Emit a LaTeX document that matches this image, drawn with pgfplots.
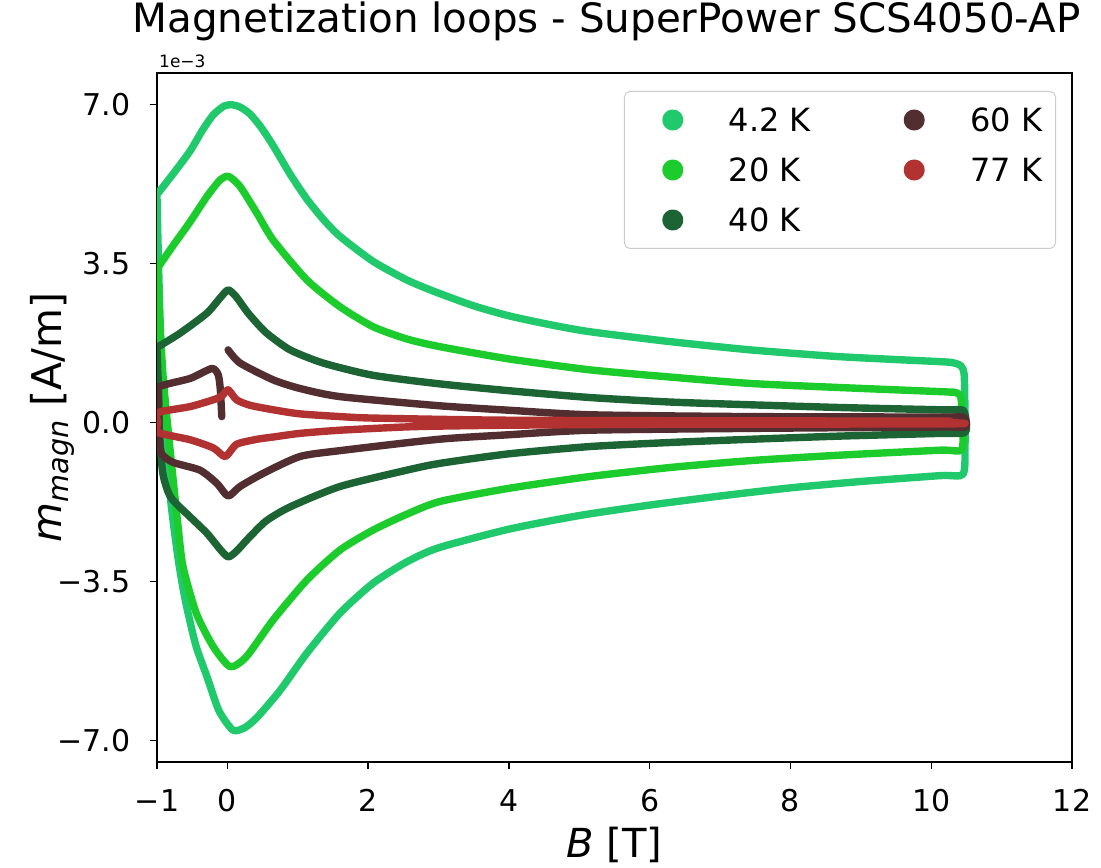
\documentclass[border=0pt]{standalone}
\usepackage{fontspec}
\setmainfont{DejaVu Sans}
\usepackage{pgfplots}
\pgfplotsset{compat=1.18}
\definecolor{c42}{RGB}{32,202,108}
\definecolor{c20}{RGB}{28,204,44}
\definecolor{c40}{RGB}{28,100,52}
\definecolor{c60}{RGB}{82,46,48}
\definecolor{c77}{RGB}{178,50,50}
\begin{document}
\begin{tikzpicture}
\path[use as bounding box] (-78.5pt,-52.5pt) rectangle (472pt,381pt);
\begin{axis}[
  name=ax, at={(0pt,0pt)}, anchor=south west,
  scale only axis, width=457.5pt, height=344.5pt,
  xmin=-1, xmax=12, ymin=-7.48, ymax=7.70,
  xtick={-1,0,2,4,6,8,10,12}, xticklabels={−1,0,2,4,6,8,10,12},
  ytick={-7,-3.5,0,3.5,7}, yticklabels={−7.0,−3.5,0.0,3.5,7.0},
  tick align=outside, xtick pos=bottom, ytick pos=left,
  major tick length=3.5pt,
  every tick/.style={black, line width=0.7pt},
  axis line style={line width=0.7pt},
  tick label style={font=\fontsize{15}{18}\selectfont},
  xticklabel style={anchor=base, inner sep=0pt, yshift=-21pt},
  yticklabel style={anchor=east, inner sep=0pt, xshift=-9.5pt},
  title={Magnetization loops - SuperPower SCS4050-AP},
  title style={at={(axis description cs:0.5,1.04064)}, anchor=base, inner sep=0pt, xshift=-4pt, font=\fontsize{20.2}{24}\selectfont},
  xlabel={\itshape B\upshape\ [T]},
  xlabel style={at={(axis description cs:0.5,-0.13788)}, anchor=base, inner sep=0pt, font=\fontsize{20}{24}\selectfont},
  ylabel={\itshape m\textsubscript{\itshape magn}\upshape\ [A/m]},
  ylabel style={at={(axis description cs:-0.10383,0.5)}, anchor=base, inner sep=0pt, font=\fontsize{20.5}{24}\selectfont},
  extra description/.code={\node[anchor=base west, inner sep=0pt, font=\fontsize{8.5}{10}\selectfont] at (axis description cs:0.002,1.0073) {1e−3};},
  every axis plot/.append style={line width=3.7pt, line join=round, line cap=round},
  legend columns=2,
  legend cell align=left,
  legend image code/.code={\path (-22.35pt,0pt) (26.15pt,0pt); \fill (0pt,0pt) circle (3.4pt);},
  legend style={at={(1,1)}, anchor=north east, xshift=-8pt, yshift=-9pt,
    draw=black!20, line width=0.5pt, rounded corners=2.75pt, fill=white,
    inner xsep=0pt, inner ysep=1.75pt, row sep=0pt, column sep=0pt,
    font=\fontsize{16}{19}\selectfont,
    nodes={inner sep=0pt, text height=18.33pt, text depth=6.67pt, anchor=west}},
]
% 4.2 K
\addplot[c42, smooth, tension=0.4, forget plot] coordinates {
(10.30,1.32) (10.13,1.34) (8.70,1.45) (7.43,1.60) (6.30,1.78) (5.15,2.00) (4.60,2.15) (4.00,2.35) (3.50,2.57) (2.95,2.88) (2.55,3.14) (2.07,3.55) (1.60,4.10) (1.36,4.48) (1.13,4.92) (0.90,5.45) (0.65,6.10) (0.48,6.50) (0.32,6.80) (0.18,6.95) (0.06,7.00) (-0.05,6.97) (-0.20,6.78) (-0.35,6.45) (-0.53,5.98) (-0.77,5.48) (-0.98,5.06) (-1.00,5.00)
(-0.97,3.00) (-0.93,1.00) (-0.88,-0.50) (-0.80,-1.80) (-0.70,-3.00) (-0.60,-3.90) (-0.45,-4.90) (-0.29,-5.60) (-0.12,-6.35) (0.08,-6.78) (0.25,-6.72) (0.42,-6.50) (0.75,-5.90) (1.13,-5.08) (1.60,-4.20) (2.07,-3.54) (2.55,-3.07) (3.00,-2.76) (4.00,-2.35) (5.00,-2.05) (6.00,-1.82) (7.00,-1.62) (8.00,-1.44) (9.00,-1.30) (10.13,-1.17) (10.45,-1.14) (10.48,-0.50) (10.47,1.00) (10.42,1.25) (10.30,1.32)
};
% 20 K
\addplot[c20, smooth, tension=0.4, forget plot] coordinates {
(10.25,0.67) (10.13,0.68) (8.70,0.77) (7.43,0.86) (6.30,1.00) (5.15,1.16) (4.00,1.40) (3.02,1.67) (2.55,1.84) (2.07,2.11) (1.60,2.55) (1.13,3.14) (0.65,4.02) (0.42,4.61) (0.18,5.20) (0.02,5.42) (-0.10,5.35) (-0.29,4.98) (-0.53,4.42) (-0.77,3.90) (-0.98,3.43) (-1.00,3.40)
(-0.96,2.20) (-0.91,0.94) (-0.84,-0.20) (-0.77,-1.27) (-0.70,-2.30) (-0.63,-3.18) (-0.44,-4.21) (-0.20,-4.94) (0.04,-5.38) (0.27,-5.16) (0.65,-4.35) (1.13,-3.47) (1.60,-2.81) (2.07,-2.37) (2.55,-2.02) (3.02,-1.74) (4.00,-1.45) (5.15,-1.19) (6.30,-0.99) (7.43,-0.84) (8.70,-0.72) (10.13,-0.61) (10.43,-0.60) (10.45,0.00) (10.42,0.55) (10.35,0.66) (10.25,0.67)
};
% 40 K
\addplot[c40, smooth, tension=0.4, forget plot] coordinates {
(10.30,0.28) (10.13,0.28) (8.70,0.33) (7.43,0.39) (6.30,0.45) (5.15,0.55) (4.00,0.70) (3.02,0.85) (2.07,1.04) (1.36,1.31) (0.89,1.60) (0.55,1.98) (0.30,2.40) (0.12,2.78) (0.01,2.92) (-0.10,2.75) (-0.29,2.41) (-0.67,1.97) (-0.98,1.67) (-1.00,1.62)
(-0.98,0.80) (-0.96,-0.30) (-0.92,-1.10) (-0.85,-1.50) (-0.77,-1.72) (-0.53,-2.08) (-0.29,-2.44) (-0.10,-2.80) (0.01,-2.96) (0.12,-2.85) (0.30,-2.55) (0.55,-2.17) (0.89,-1.86) (1.60,-1.41) (2.55,-1.05) (3.02,-0.90) (4.00,-0.69) (5.15,-0.53) (6.30,-0.44) (7.43,-0.37) (8.70,-0.30) (10.13,-0.24) (10.48,-0.22) (10.49,0.10) (10.45,0.27) (10.30,0.28)
};
% 60 K
\addplot[c60, smooth, tension=0.4, forget plot] coordinates {
(10.30,0.12) (10.13,0.12) (7.43,0.13) (5.15,0.17) (4.00,0.27) (3.00,0.37) (1.60,0.57) (1.03,0.75) (0.65,0.94) (0.18,1.31) (0.01,1.60)
};
\addplot[c60, smooth, tension=0.4, forget plot] coordinates {
(-0.08,0.13) (-0.10,0.72) (-0.13,1.05) (-0.22,1.19) (-0.53,0.97) (-0.96,0.79) (-0.98,0.50) (-0.97,-0.40) (-0.93,-0.70) (-0.77,-0.88) (-0.39,-1.05) (-0.15,-1.34) (0.01,-1.62) (0.18,-1.41) (0.51,-1.12) (1.03,-0.75) (1.60,-0.62) (3.00,-0.37) (4.00,-0.27) (5.15,-0.17) (7.43,-0.13) (10.13,-0.10) (10.48,-0.10) (10.49,0.05) (10.45,0.12) (10.30,0.12)
};
% 77 K
\addplot[c77, smooth, tension=0.4, forget plot] coordinates {
(10.27,0.03) (6.00,0.04) (4.00,0.05) (3.00,0.07) (2.00,0.10) (1.60,0.13) (1.03,0.19) (0.65,0.28) (0.32,0.38) (0.13,0.50) (0.01,0.72) (-0.08,0.58) (-0.20,0.50) (-0.53,0.35) (-0.98,0.22)
(-0.99,0.00) (-0.98,-0.22) (-0.53,-0.38) (-0.20,-0.56) (-0.03,-0.75) (0.13,-0.48) (0.42,-0.37) (0.65,-0.32) (1.03,-0.24) (1.60,-0.17) (2.50,-0.10) (3.00,-0.08) (4.00,-0.06) (6.00,-0.04) (10.27,-0.03) (10.28,0.00) (10.27,0.03)
};
\addlegendimage{color=c42, fill=c42}
\addlegendentry{\makebox[68.5pt][l]{4.2 K}}
\addlegendimage{color=c60, fill=c60}
\addlegendentry{\makebox[42.65pt][l]{60 K}}
\addlegendimage{color=c20, fill=c20}
\addlegendentry{\makebox[68.5pt][l]{20 K}}
\addlegendimage{color=c77, fill=c77}
\addlegendentry{\makebox[42.65pt][l]{77 K}}
\addlegendimage{color=c40, fill=c40}
\addlegendentry{\makebox[68.5pt][l]{40 K}}
\end{axis}
\end{tikzpicture}
\end{document}
